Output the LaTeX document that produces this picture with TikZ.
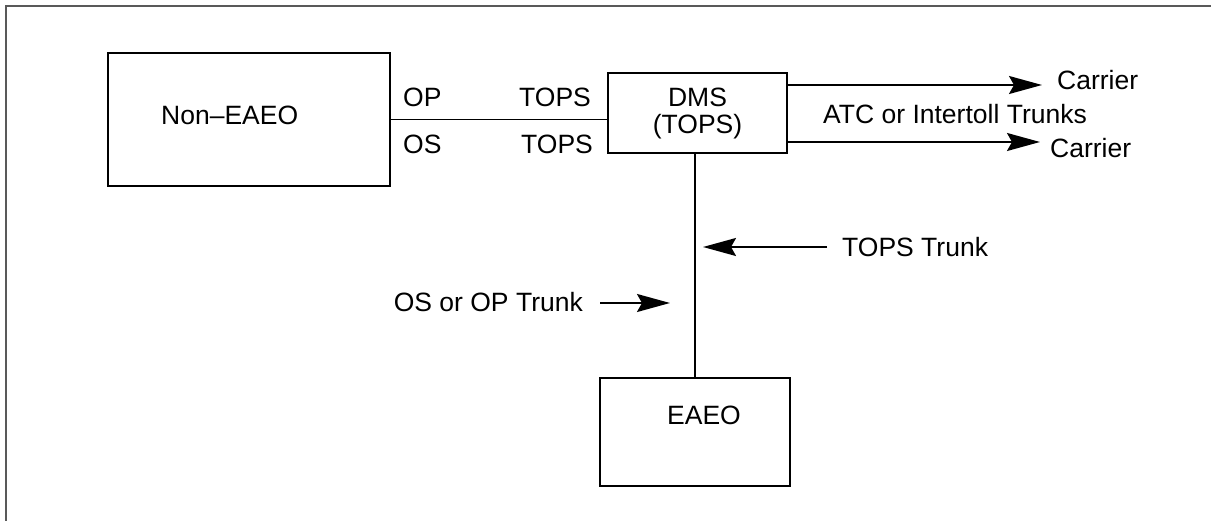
\documentclass[tikz,border=0pt]{standalone}
\usepackage{fontspec}
\setmainfont{Liberation Sans}
\usetikzlibrary{arrows.meta}
\begin{document}
\begin{tikzpicture}[x=1pt,y=-1pt,
  box/.style={draw=black, line width=2.3pt, rectangle, inner sep=0pt},
  lbl/.style={inner sep=0pt, font=\fontsize{26.5}{28}\selectfont},
  conn/.style={draw=black, line width=1.8pt},
  arr/.style={conn, -{Stealth[length=33pt,width=18pt,inset=5pt]}},
  frame/.style={draw=black!65, line width=1.5pt}]
\useasboundingbox (0,0) rectangle (1211,521);
\draw[frame] (6,521) -- (6,6) -- (1211,6);
% boxes
\node[box, minimum width=282pt, minimum height=133pt] (non) at (249,119.5) {};
\node[box, minimum width=179pt, minimum height=80pt, align=center, font=\fontsize{26.5}{27}\selectfont] (dms) at (697.5,113) {DMS\\(TOPS)};
\node[box, minimum width=190pt, minimum height=108pt] (eaeo) at (695,432) {};
\node[lbl, anchor=base west] (nontxt) at (161,124.5) {Non–EAEO};
\node[lbl, anchor=base] (eaeotxt) at (704,424.5) {EAEO};
% trunk labels
\node[lbl, anchor=base west] (op) at (403,106.5) {OP};
\node[lbl, anchor=base west] (tops1) at (519,106.5) {TOPS};
\node[lbl, anchor=base west] (os) at (403,153.5) {OS};
\node[lbl, anchor=base west] (tops2) at (521,153.5) {TOPS};
% connectors
\draw[conn] (non.east) -- (non.east -| dms.west);
\draw[conn] (dms.south -| eaeo.north) -- (eaeo.north);
\coordinate (c1) at (1042,85);
\coordinate (c2) at (1040,142);
\draw[arr] (dms.east |- c1) -- (c1);
\draw[arr] (dms.east |- c2) -- (c2);
\node[lbl, anchor=base west] (car1) at (1057,89.5) {Carrier};
\node[lbl, anchor=base west] (car2) at (1050,157.5) {Carrier};
\node[lbl, anchor=base west] (atc) at (823,123.5) {ATC or Intertoll Trunks};
% vertical trunk labels
\coordinate (tt) at (827,247);
\coordinate (tth) at (703,247);
\draw[arr] (tt) -- (tth);
\node[lbl, anchor=base west] (topstrunk) at (842,256.5) {TOPS Trunk};
\coordinate (ot) at (600,303);
\coordinate (oth) at (670,303);
\draw[arr] (ot) -- (oth);
\node[lbl, anchor=base east] (osop) at (583,311.5) {OS or OP Trunk};
\end{tikzpicture}
\end{document}
